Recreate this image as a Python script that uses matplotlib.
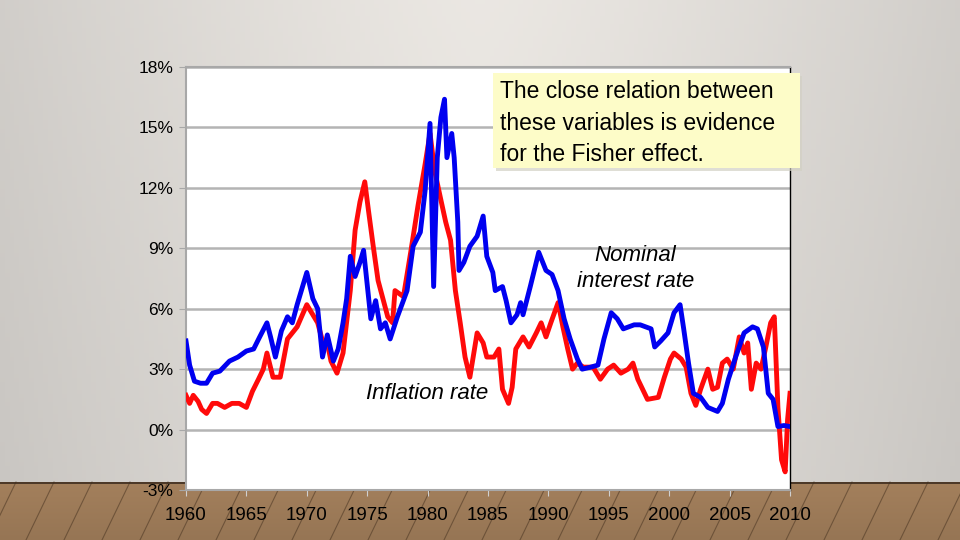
import numpy as np
import matplotlib
matplotlib.use("Agg")
import matplotlib.pyplot as plt
from matplotlib.patches import Rectangle

# ---- data ----
nominal_years = [1960.0, 1960.3, 1960.7, 1961.2, 1961.7, 1962.2, 1962.8, 1963.6, 1964.3, 1965.0,
                 1965.6, 1966.1, 1966.7, 1967.0, 1967.4, 1967.9, 1968.4, 1968.8, 1969.2, 1969.5,
                 1970.0, 1970.5, 1970.9, 1971.3, 1971.7, 1972.2, 1972.6, 1973.0, 1973.3, 1973.6,
                 1974.0, 1974.4, 1974.7, 1975.0, 1975.3, 1975.7, 1976.1, 1976.5, 1976.9, 1977.5,
                 1978.3, 1978.8, 1979.4, 1979.8, 1980.2, 1980.5, 1980.8, 1981.1, 1981.4, 1981.6,
                 1982.0, 1982.2, 1982.5, 1982.6, 1983.0, 1983.5, 1984.1, 1984.6, 1984.9, 1985.4,
                 1985.6, 1986.2, 1986.5, 1986.9, 1987.4, 1987.7, 1987.9, 1988.5, 1989.2, 1989.8,
                 1990.3, 1990.8, 1991.3, 1991.8, 1992.4, 1992.8, 1993.5, 1994.1, 1994.6, 1995.2,
                 1995.7, 1996.2, 1997.1, 1997.6, 1998.5, 1998.8, 1999.3, 1999.9, 2000.4, 2000.9,
                 2001.2, 2001.6, 2002.0, 2002.6, 2003.2, 2004.0, 2004.4, 2004.9, 2005.5, 2006.2,
                 2006.9, 2007.3, 2007.8, 2008.2, 2008.6, 2009.0, 2009.5, 2010.0]
nominal_rate = [4.4, 3.2, 2.4, 2.3, 2.3, 2.8, 2.9, 3.4, 3.6, 3.9,
                4.0, 4.6, 5.3, 4.6, 3.6, 4.9, 5.6, 5.3, 6.2, 6.8,
                7.8, 6.5, 6.0, 3.6, 4.7, 3.4, 4.0, 5.3, 6.5, 8.6,
                7.6, 8.3, 8.9, 7.2, 5.5, 6.4, 5.0, 5.3, 4.5, 5.6,
                6.9, 9.1, 9.8, 11.9, 15.2, 7.1, 13.5, 15.5, 16.4, 13.5,
                14.7, 13.5, 10.3, 7.9, 8.3, 9.1, 9.6, 10.6, 8.6, 7.8,
                6.9, 7.1, 6.4, 5.3, 5.7, 6.3, 5.7, 7.1, 8.8, 7.9,
                7.7, 6.9, 5.5, 4.5, 3.5, 3.0, 3.1, 3.2, 4.5, 5.8,
                5.5, 5.0, 5.2, 5.2, 5.0, 4.1, 4.4, 4.8, 5.8, 6.2,
                5.0, 3.3, 1.8, 1.6, 1.1, 0.9, 1.3, 2.5, 3.6, 4.8,
                5.1, 5.0, 4.1, 1.8, 1.5, 0.15, 0.2, 0.15]

inflation_years = [1960.0, 1960.3, 1960.6, 1961.0, 1961.3, 1961.7, 1962.2, 1962.6, 1963.2, 1963.8,
                   1964.4, 1965.0, 1965.5, 1966.0, 1966.4, 1966.7, 1967.2, 1967.8, 1968.4, 1969.2,
                   1970.0, 1970.9, 1971.3, 1971.7, 1972.0, 1972.5, 1973.0, 1973.6, 1974.0, 1974.4,
                   1974.8, 1975.1, 1975.5, 1975.9, 1976.7, 1977.1, 1977.3, 1978.0, 1978.6, 1979.2,
                   1979.8, 1980.2, 1980.6, 1981.1, 1981.5, 1981.9, 1982.3, 1982.7, 1983.1, 1983.5,
                   1984.1, 1984.6, 1984.9, 1985.5, 1985.9, 1986.2, 1986.7, 1987.0, 1987.3, 1987.9,
                   1988.4, 1989.0, 1989.4, 1989.8, 1990.2, 1990.8, 1991.2, 1991.6, 1992.0, 1992.4,
                   1992.9, 1993.7, 1994.3, 1994.9, 1995.4, 1996.0, 1996.6, 1997.0, 1997.4, 1998.2,
                   1999.1, 1999.6, 2000.1, 2000.4, 2001.0, 2001.4, 2001.8, 2002.2, 2002.6, 2003.2,
                   2003.6, 2004.0, 2004.4, 2004.8, 2005.3, 2005.8, 2006.2, 2006.5, 2006.8, 2007.2,
                   2007.6, 2008.0, 2008.4, 2008.7, 2009.0, 2009.3, 2009.6, 2009.8, 2010.0]
inflation_rate = [1.7, 1.3, 1.7, 1.4, 1.0, 0.8, 1.3, 1.3, 1.1, 1.3,
                  1.3, 1.1, 1.9, 2.5, 3.0, 3.8, 2.6, 2.6, 4.5, 5.1,
                  6.2, 5.3, 4.4, 4.3, 3.4, 2.8, 3.8, 6.9, 9.9, 11.3,
                  12.3, 10.9, 9.1, 7.4, 5.6, 5.3, 6.9, 6.6, 8.8, 11.1,
                  13.2, 14.7, 12.8, 11.4, 10.3, 9.4, 6.9, 5.3, 3.6, 2.6,
                  4.8, 4.3, 3.6, 3.6, 4.0, 2.0, 1.3, 2.1, 4.0, 4.6,
                  4.1, 4.8, 5.3, 4.6, 5.3, 6.3, 5.1, 4.0, 3.0, 3.3,
                  3.1, 3.1, 2.5, 3.0, 3.2, 2.8, 3.0, 3.3, 2.5, 1.5,
                  1.6, 2.6, 3.5, 3.8, 3.5, 3.1, 1.8, 1.2, 2.0, 3.0,
                  2.0, 2.1, 3.3, 3.5, 3.0, 4.6, 3.8, 4.3, 2.0, 3.3,
                  3.0, 4.1, 5.3, 5.6, 1.1, -1.5, -2.1, 0.5, 1.8]

y_ticks = [-3, 0, 3, 6, 9, 12, 15, 18]
x_ticks = [1960, 1965, 1970, 1975, 1980, 1985, 1990, 1995, 2000, 2005, 2010]

FONT = "Liberation Sans"

fig = plt.figure(figsize=(9.6, 5.4), dpi=100)

# ---- slide background ----
bg = fig.add_axes([0, 0, 1, 1], zorder=-10)
bg.set_xlim(0, 960); bg.set_ylim(540, 0); bg.axis("off")
xx = np.linspace(-1, 1, 200)
yy = np.linspace(0, 1, 120)
X, Y = np.meshgrid(xx, yy)
shade = 0.92 - 0.10 * np.abs(X) ** 1.3 - 0.03 * Y
wall = np.dstack([shade * 1.0, shade * 0.985, shade * 0.965])
bg.imshow(wall, extent=[0, 960, 482, 0], aspect="auto", zorder=0)
fy = np.linspace(0, 1, 30)[:, None] * np.ones((1, 200))
f = 1 - 0.08 * fy
floor = np.dstack([0.64 * f, 0.50 * f, 0.36 * f])
bg.imshow(floor, extent=[0, 960, 540, 482], aspect="auto", zorder=0)
for xs in np.arange(-60, 1000, 38):
    bg.plot([xs, xs - 28], [482, 540], color="#4a3522", lw=0.8, alpha=0.55, zorder=1)
bg.plot([0, 960], [482.5, 482.5], color="#3c2c1e", lw=1.2, zorder=2)

# ---- chart ----
ax = fig.add_axes([186 / 960, (540 - 490) / 540, 604 / 960, 423 / 540])
ax.set_facecolor("white")
ax.set_xlim(1960, 2010)
ax.set_ylim(-3, 18)
ax.set_yticks(y_ticks)
ax.set_yticklabels([f"{v}%" for v in y_ticks], fontfamily=FONT, fontsize=12.5)
ax.set_xticks(x_ticks)
ax.set_xticklabels([str(v) for v in x_ticks], fontfamily=FONT, fontsize=13.5)
ax.grid(axis="y", color="#b4b4b4", lw=1.8)
ax.set_axisbelow(True)
for s in ["left", "bottom", "top"]:
    ax.spines[s].set_color("#a8a8a8")
    ax.spines[s].set_linewidth(1.5)
ax.spines["right"].set_color("black")
ax.spines["right"].set_linewidth(1.0)
ax.tick_params(axis="y", length=5, color="#a8a8a8", pad=4)
ax.tick_params(axis="x", length=4, color="#d0d0d0", pad=8)

ax.plot(inflation_years, inflation_rate, color="#ff0a0a", lw=3.5, solid_joinstyle="round", zorder=3)
ax.plot(nominal_years, nominal_rate, color="#0000f0", lw=3.5, solid_joinstyle="round", zorder=4)

ax.text(1980.0, 1.8, "Inflation rate", fontfamily=FONT, fontsize=16, style="italic",
        ha="center", va="center", zorder=5)
ax.text(1997.2, 8.0, "Nominal\ninterest rate", fontfamily=FONT, fontsize=16, style="italic",
        ha="center", va="center", linespacing=1.3, zorder=5)

# ---- callout box ----
box_ax = fig.add_axes([0, 0, 1, 1], zorder=5)
box_ax.set_xlim(0, 960); box_ax.set_ylim(540, 0); box_ax.axis("off")
box_ax.add_patch(Rectangle((496, 76), 306, 95, facecolor="#d2d0c4", edgecolor="none", alpha=0.7))
box_ax.add_patch(Rectangle((493, 73), 307, 95, facecolor="#fdfcc8", edgecolor="none"))
box_ax.text(500, 123, "The close relation between\nthese variables is evidence\nfor the Fisher effect.",
            fontfamily=FONT, fontsize=16.5, ha="left", va="center", linespacing=1.45)

fig.savefig("out.png", dpi=100)
